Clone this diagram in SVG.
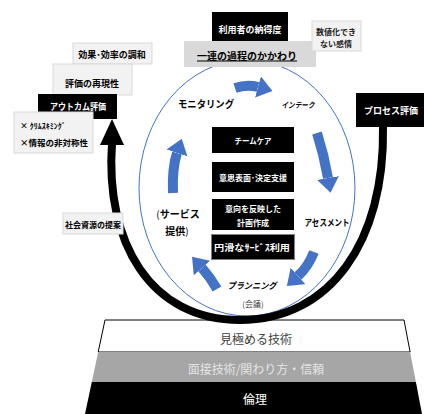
<svg xmlns="http://www.w3.org/2000/svg" width="426" height="414" viewBox="0 0 426 414">
<defs>
<style>
text { font-family: "Noto Sans CJK JP", "Noto Sans", sans-serif; text-anchor: middle; dominant-baseline: central; }
.b { font-weight: 700; }
.w { fill: #fff; }
.lbox { fill: #f2f2f2; stroke: #d9d9d9; stroke-width: 1; }
.kbox { fill: #000; }
.blue { fill: none; stroke: #4472C4; stroke-width: 10; }
</style>
<marker id="bh" viewBox="0 0 15 22" refX="0" refY="11" markerWidth="15" markerHeight="22" orient="auto" markerUnits="userSpaceOnUse">
<path d="M0,0 L15,11 L0,22 z" fill="#4472C4"/>
</marker>
</defs>
<rect width="426" height="414" fill="#fff"/>

<g id="foundation">
<polygon points="105,320 404,320 410.1,352 98.2,352" fill="#fff" stroke="#000" stroke-width="1"/>
<polygon points="98.2,352 410.1,352 415.9,382 91.8,382" fill="#a6a6a6"/>
<polygon points="91.8,382 415.9,382 422,414 85,414" fill="#000"/>
<text x="256" y="338" font-size="12" fill="#404040">見極める技術</text>
<text x="256" y="368" font-size="12" fill="#e4e4e4">面接技術/関わり方・信頼</text>
<text x="255" y="398" font-size="12" fill="#fff">倫理</text>
</g>

<g id="cycle-ellipse">
<ellipse cx="247" cy="188" rx="108" ry="128" fill="none" stroke="#4472C4" stroke-width="1"/>
</g>

<g id="connectors">
<path d="M383 127 C385 242 330 320 240 320 C150 320 105 242 112 143" fill="none" stroke="#000" stroke-width="8"/>
<polygon points="112,119 100,145 124,145" fill="#000"/>
<path class="blue" d="M235 88 Q247 84 258 87" marker-end="url(#bh)"/>
<path class="blue" d="M317 133 Q324 155 328 178" marker-end="url(#bh)"/>
<path class="blue" d="M314 252 Q308 267 298 276" marker-end="url(#bh)"/>
<path class="blue" d="M217 289 Q210 277 202 268" marker-end="url(#bh)"/>
<path class="blue" d="M173 193 Q172 168 177 153" marker-end="url(#bh)"/>
</g>

<g id="satisfaction">
<rect x="212" y="12" width="76" height="30" class="kbox"/>
<text x="250" y="29" font-size="9" class="b w">利用者の納得度</text>
</g>
<g id="process-involvement">
<rect x="184" y="41" width="132" height="26" fill="#d9d9d9"/>
<text x="247" y="55" font-size="10" class="b" text-decoration="underline">一連の過程のかかわり</text>
</g>
<g id="emotion">
<rect x="312" y="21" width="49" height="30" class="lbox"/>
<text x="336" y="31" font-size="8" class="b" fill="#222">数値化でき</text>
<text x="336" y="43" font-size="8" class="b" fill="#222">ない感情</text>
</g>
<g id="harmony">
<rect x="73" y="43" width="79" height="21" class="lbox"/>
<text x="112" y="54" font-size="9" class="b">効果･効率の調和</text>
</g>
<g id="reproducibility">
<rect x="53" y="64" width="79" height="31" class="lbox"/>
<text x="92" y="83" font-size="9" class="b">評価の再現性</text>
</g>
<g id="outcome">
<rect x="38" y="94" width="79" height="25" class="kbox"/>
<text x="78" y="106" font-size="9" class="b w" textLength="56" lengthAdjust="spacingAndGlyphs">アウトカム評価</text>
</g>
<g id="cream">
<rect x="14" y="112" width="79" height="41" class="lbox"/>
<text x="20" y="125" font-size="8" class="b" style="text-anchor:start">× ｸﾘﾑｽｷﾐﾝｸﾞ</text>
<text x="20" y="142" font-size="8.5" class="b" style="text-anchor:start">×情報の非対称性</text>
</g>
<g id="social-resources">
<rect x="63" y="213" width="60" height="21" class="lbox"/>
<text x="93" y="224" font-size="8" class="b">社会資源の提案</text>
</g>
<g id="process-eval">
<rect x="356" y="93" width="68" height="34" class="kbox"/>
<text x="391" y="110" font-size="9" class="b w">プロセス評価</text>
</g>

<g id="teamcare">
<rect x="212" y="127" width="82" height="26" class="kbox"/>
<text x="253" y="140" font-size="8" class="b w" textLength="37" lengthAdjust="spacingAndGlyphs">チームケア</text>
</g>
<g id="decision">
<rect x="212" y="162" width="82" height="30" class="kbox"/>
<text x="253" y="177" font-size="8" class="b w">意思表面･決定支援</text>
</g>
<g id="plan">
<rect x="212" y="199" width="82" height="31" class="kbox"/>
<text x="253" y="208" font-size="8" class="b w">意向を反映した</text>
<text x="253" y="222" font-size="8" class="b w">計画作成</text>
</g>
<g id="smooth">
<rect x="211.5" y="234.5" width="83" height="25" class="kbox" stroke="#808080" stroke-width="1"/>
<text x="252" y="247" font-size="9" class="b w" textLength="76" lengthAdjust="spacingAndGlyphs">円滑なｻｰﾋﾞｽ利用</text>
</g>

<g id="monitoring">
<text x="206" y="103" font-size="10" class="b" textLength="56" lengthAdjust="spacingAndGlyphs">モニタリング</text>
</g>
<g id="intake">
<text x="298" y="104" font-size="8" class="b" font-style="italic" textLength="33" lengthAdjust="spacingAndGlyphs">インテーク</text>
</g>
<g id="assessment">
<text x="327" y="222" font-size="9" class="b" textLength="45" lengthAdjust="spacingAndGlyphs">アセスメント</text>
</g>
<g id="planning">
<text x="252" y="285" font-size="9" class="b" font-style="italic" textLength="49" lengthAdjust="spacingAndGlyphs">プランニング</text>
<text x="253" y="303" font-size="8" fill="#404040">(会議)</text>
</g>
<g id="service">
<text x="178" y="213" font-size="10" class="b"><tspan font-weight="400">(</tspan>サービス</text>
<text x="177" y="230" font-size="10" class="b">提供<tspan font-weight="400">)</tspan></text>
</g>
</svg>
